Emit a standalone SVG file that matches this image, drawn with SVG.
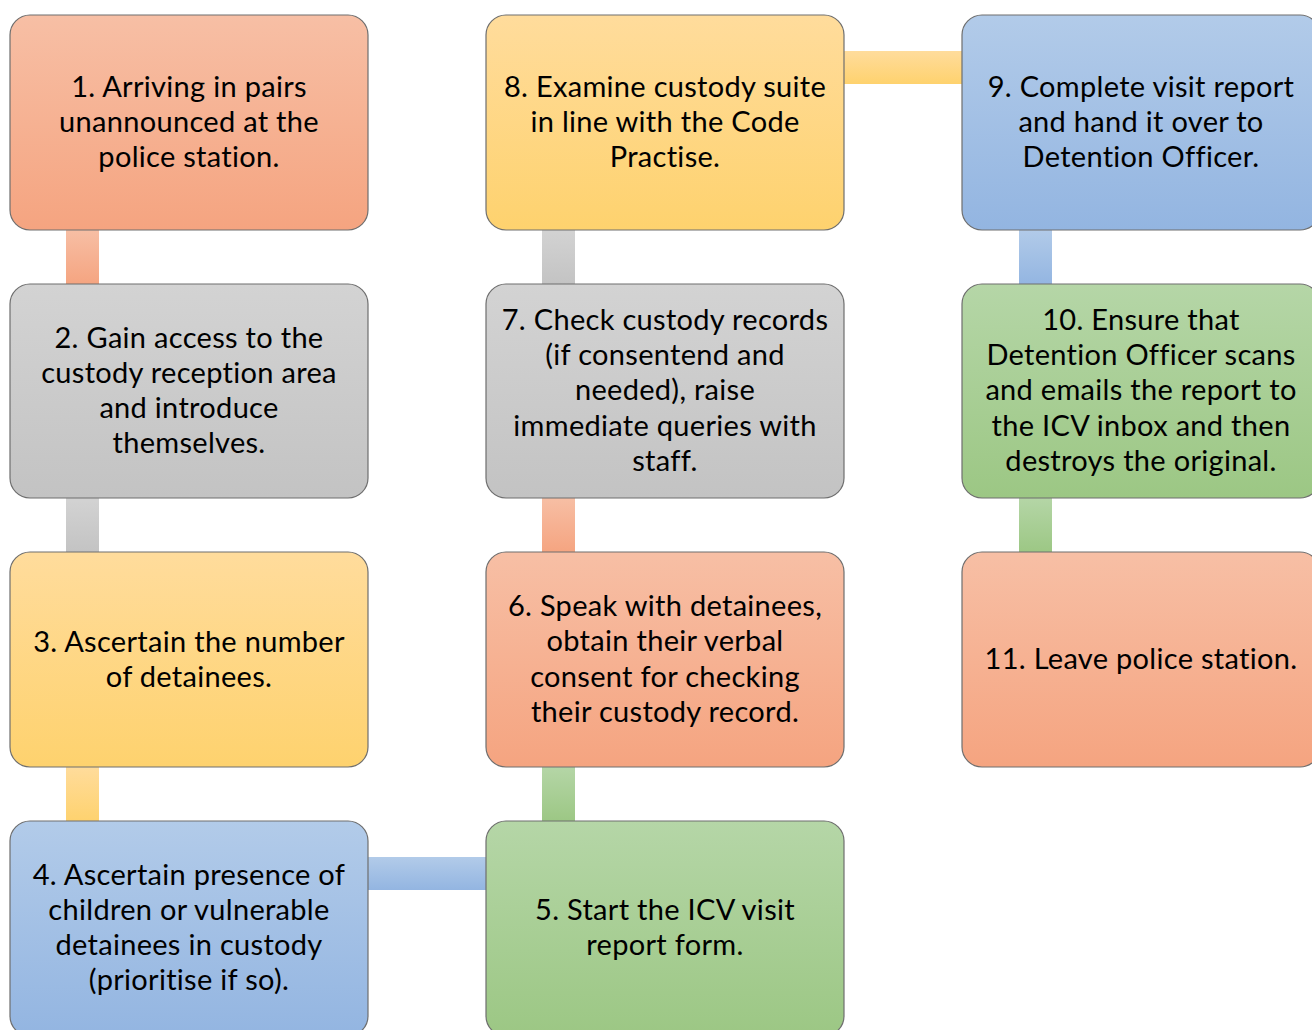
<svg xmlns="http://www.w3.org/2000/svg" width="1312" height="1030" viewBox="0 0 1312 1030">
<defs>
<linearGradient id="gO" x1="0" y1="0" x2="0" y2="1"><stop offset="0" stop-color="#F7BFA5"/><stop offset="1" stop-color="#F5A480"/></linearGradient>
<linearGradient id="gG" x1="0" y1="0" x2="0" y2="1"><stop offset="0" stop-color="#D3D3D3"/><stop offset="1" stop-color="#C3C3C3"/></linearGradient>
<linearGradient id="gY" x1="0" y1="0" x2="0" y2="1"><stop offset="0" stop-color="#FFDC9C"/><stop offset="1" stop-color="#FED26E"/></linearGradient>
<linearGradient id="gB" x1="0" y1="0" x2="0" y2="1"><stop offset="0" stop-color="#B2CBE9"/><stop offset="1" stop-color="#93B5E1"/></linearGradient>
<linearGradient id="gN" x1="0" y1="0" x2="0" y2="1"><stop offset="0" stop-color="#B5D6A7"/><stop offset="1" stop-color="#9CC784"/></linearGradient>
</defs>
<style>
.box{stroke:#6E6E6E;stroke-width:1.2}
text{font-family:Lato,"Liberation Sans",sans-serif;font-size:29px;letter-spacing:0.3px;fill:#000;text-anchor:middle}
</style>
<g id="connectors">
<rect x="66" y="229" width="33" height="56" fill="url(#gO)"/>
<rect x="66" y="497" width="33" height="56" fill="url(#gG)"/>
<rect x="66" y="766" width="33" height="56" fill="url(#gY)"/>
<rect x="367" y="857" width="120" height="33" fill="url(#gB)"/>
<rect x="542" y="766" width="33" height="56" fill="url(#gN)"/>
<rect x="542" y="497" width="33" height="56" fill="url(#gO)"/>
<rect x="542" y="229" width="33" height="56" fill="url(#gG)"/>
<rect x="843" y="51" width="120" height="33" fill="url(#gY)"/>
<rect x="1019" y="229" width="33" height="56" fill="url(#gB)"/>
<rect x="1019" y="497" width="33" height="56" fill="url(#gN)"/>
</g>
<g id="node1"><rect class="box" x="10" y="15" width="358" height="215" rx="20" fill="url(#gO)"/>
<text x="189" y="97">1. Arriving in pairs</text><text x="189" y="132">unannounced at the</text><text x="189" y="167">police station.</text></g>
<g id="node2"><rect class="box" x="10" y="284" width="358" height="214" rx="20" fill="url(#gG)"/>
<text x="189" y="348">2. Gain access to the</text><text x="189" y="383">custody reception area</text><text x="189" y="418">and introduce</text><text x="189" y="453">themselves.</text></g>
<g id="node3"><rect class="box" x="10" y="552" width="358" height="215" rx="20" fill="url(#gY)"/>
<text x="189" y="652">3. Ascertain the number</text><text x="189" y="687">of detainees.</text></g>
<g id="node4"><rect class="box" x="10" y="821" width="358" height="215" rx="20" fill="url(#gB)"/>
<text x="189" y="885">4. Ascertain presence of</text><text x="189" y="920">children or vulnerable</text><text x="189" y="955">detainees in custody</text><text x="189" y="990">(prioritise if so).</text></g>
<g id="node5"><rect class="box" x="486" y="821" width="358" height="215" rx="20" fill="url(#gN)"/>
<text x="665" y="920">5. Start the ICV visit</text><text x="665" y="955">report form.</text></g>
<g id="node6"><rect class="box" x="486" y="552" width="358" height="215" rx="20" fill="url(#gO)"/>
<text x="665" y="616">6. Speak with detainees,</text><text x="665" y="651">obtain their verbal</text><text x="665" y="687">consent for checking</text><text x="665" y="722">their custody record.</text></g>
<g id="node7"><rect class="box" x="486" y="284" width="358" height="214" rx="20" fill="url(#gG)"/>
<text x="665" y="330">7. Check custody records</text><text x="665" y="365">(if consentend and</text><text x="665" y="400">needed), raise</text><text x="665" y="436">immediate queries with</text><text x="665" y="471">staff.</text></g>
<g id="node8"><rect class="box" x="486" y="15" width="358" height="215" rx="20" fill="url(#gY)"/>
<text x="665" y="97">8. Examine custody suite</text><text x="665" y="132">in line with the Code</text><text x="665" y="167">Practise.</text></g>
<g id="node9"><rect class="box" x="962" y="15" width="358" height="215" rx="20" fill="url(#gB)"/>
<text x="1141" y="97">9. Complete visit report</text><text x="1141" y="132">and hand it over to</text><text x="1141" y="167">Detention Officer.</text></g>
<g id="node10"><rect class="box" x="962" y="284" width="358" height="214" rx="20" fill="url(#gN)"/>
<text x="1141" y="330">10. Ensure that</text><text x="1141" y="365">Detention Officer scans</text><text x="1141" y="400">and emails the report to</text><text x="1141" y="436">the ICV inbox and then</text><text x="1141" y="471">destroys the original.</text></g>
<g id="node11"><rect class="box" x="962" y="552" width="358" height="215" rx="20" fill="url(#gO)"/>
<text x="1141" y="669">11. Leave police station.</text></g>
</svg>
